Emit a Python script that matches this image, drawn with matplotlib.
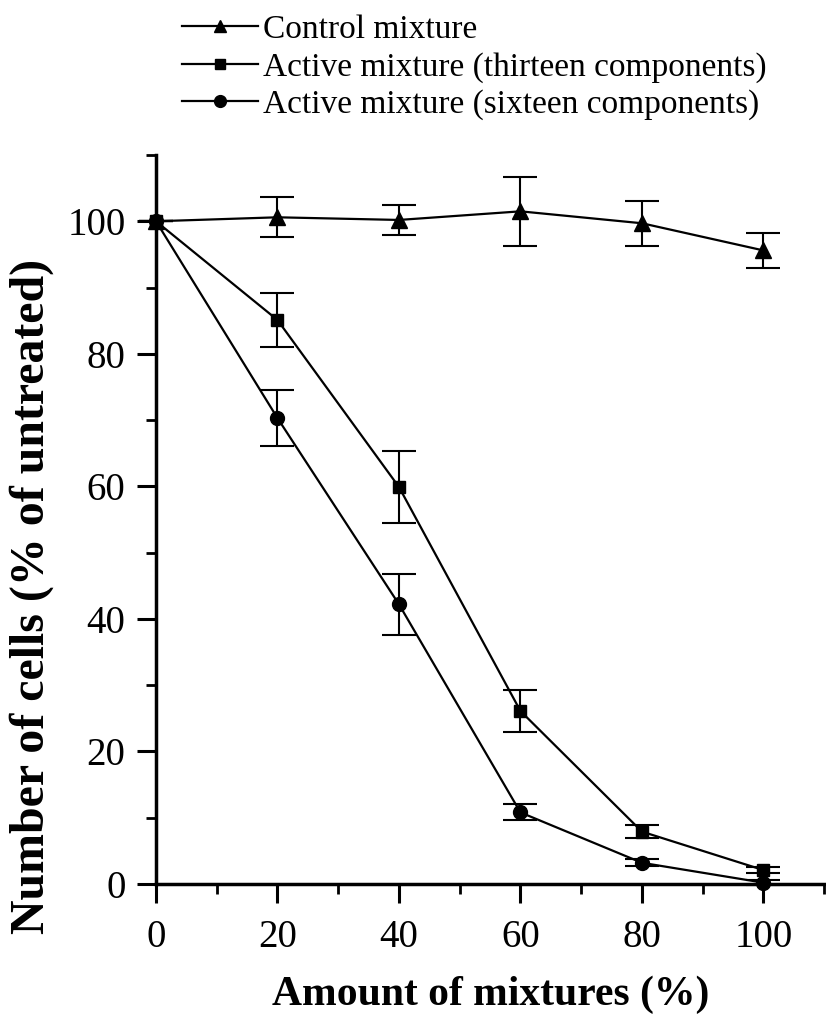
import matplotlib
matplotlib.use("Agg")
import matplotlib.pyplot as plt
from matplotlib.ticker import MultipleLocator
from matplotlib.lines import Line2D

# Data
amount = [0, 20, 40, 60, 80, 100]
control = [100, 100.6, 100.2, 101.5, 99.7, 95.6]
control_err = [0, 3.0, 2.2, 5.2, 3.4, 2.7]
thirteen = [100, 85.1, 59.9, 26.1, 7.9, 2.1]
thirteen_err = [0, 4.1, 5.5, 3.1, 1.0, 0.5]
sixteen = [100, 70.3, 42.2, 10.8, 3.2, 0.2]
sixteen_err = [0, 4.2, 4.6, 1.2, 0.5, 0.4]
labels = ["Control mixture",
          "Active mixture (thirteen components)",
          "Active mixture (sixteen components)"]
xlabel = "Amount of mixtures (%)"
ylabel = "Number of cells (% of untreated)"

plt.rcParams['font.family'] = ['Liberation Serif', 'DejaVu Serif']

W, H = 826, 1028
fig = plt.figure(figsize=(W / 100, H / 100), dpi=100)
left, right, bottom, top = 156, 826, 884, 155
ax = fig.add_axes([left / W, 1 - bottom / H, (right - left) / W, (bottom - top) / H])

series = [
    (control, control_err, '^', 11),
    (thirteen, thirteen_err, 's', 9),
    (sixteen, sixteen_err, 'o', 10),
]
for (vals, errs, mk, ms), lab in zip(series, labels):
    eb = ax.errorbar(amount, vals, yerr=errs, color='black', marker=mk, markersize=ms,
                     linewidth=1.6, elinewidth=1.5, capsize=12.5, capthick=1.5,
                     label=lab, zorder=3)
    eb.lines[0].set_clip_on(False)
    for c in eb.lines[1]:
        c.set_clip_on(False)
    for c in eb.lines[2]:
        c.set_clip_on(False)

ax.set_xlim(0, 110.3)
ax.set_ylim(0, 110)

for s in ['top', 'right']:
    ax.spines[s].set_visible(False)
for s in ['left', 'bottom']:
    ax.spines[s].set_linewidth(2.5)

ax.xaxis.set_major_locator(MultipleLocator(20))
ax.xaxis.set_minor_locator(MultipleLocator(10))
ax.yaxis.set_major_locator(MultipleLocator(20))
ax.yaxis.set_minor_locator(MultipleLocator(10))
ax.tick_params(which='major', direction='out', length=14, width=2.2, labelsize=28, pad=8)
ax.tick_params(axis='x', which='major', pad=11)
ax.tick_params(which='minor', direction='out', length=7, width=2.0)

ax.set_xlabel(xlabel, fontsize=30, fontweight='bold')
ax.xaxis.set_label_coords(0.5, -0.125)
ax.set_ylabel(ylabel, fontsize=34.5, fontweight='bold')
ax.yaxis.label.set_va('center')
ax.yaxis.set_label_coords(-0.185, 0.395)

leg_handles = [Line2D([], [], color='black', marker=m, markersize=s * 0.85, linewidth=1.6)
               for (_, _, m, s) in series]
fig.legend(leg_handles, labels, loc='upper left', bbox_to_anchor=(165 / W, 1 + 2 / H),
           frameon=False, fontsize=24, handlelength=2.3, handletextpad=0.15,
           labelspacing=0.2, borderpad=0)

fig.savefig('out.png', dpi=100)
